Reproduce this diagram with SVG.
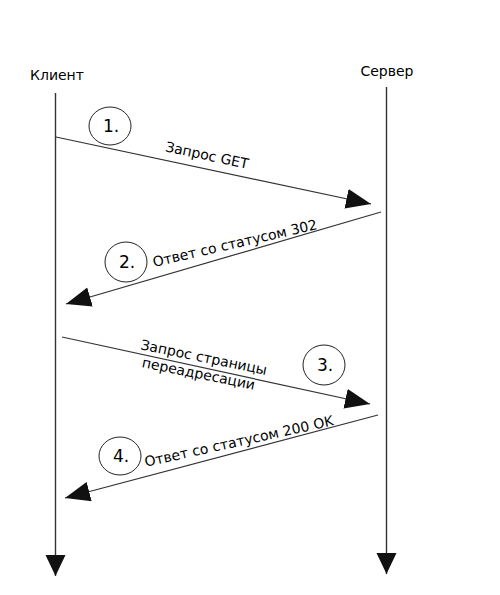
<svg xmlns="http://www.w3.org/2000/svg" width="500" height="595" viewBox="0 0 500 595">
<style>
  .life { stroke: #333; stroke-width: 1.4; fill: none; }
  .msg { stroke: #333; stroke-width: 1.2; fill: none; }
  .lbl { font-family: "DejaVu Sans", Verdana, sans-serif; font-size: 14px; fill: #000; }
  .num { font-family: "DejaVu Sans", Verdana, sans-serif; font-size: 17px; fill: #000; text-anchor: middle; }
  .ring { fill: none; stroke: #222; stroke-width: 1; }
  .ctr { text-anchor: middle; }
</style>
<defs>
  <marker id="head" markerUnits="userSpaceOnUse" markerWidth="28" markerHeight="22" refX="25" refY="10" orient="auto">
    <path d="M0,0 L25,10 L0,20 Z" fill="#111"/>
  </marker>
  <marker id="vhead" markerUnits="userSpaceOnUse" markerWidth="24" markerHeight="22" refX="21" refY="10" orient="auto">
    <path d="M0,0 L21,10 L0,20 Z" fill="#111"/>
  </marker>
</defs>
<rect width="500" height="595" fill="#fff"/>

<g id="client">
  <text class="lbl" x="30" y="80">Клиент</text>
  <line class="life" x1="55.5" y1="93" x2="55.5" y2="576" marker-end="url(#vhead)"/>
</g>
<g id="server">
  <text class="lbl ctr" x="387" y="76">Сервер</text>
  <line class="life" x1="386.5" y1="87" x2="386.5" y2="574" marker-end="url(#vhead)"/>
</g>

<g id="connectors">
  <line class="msg" x1="56" y1="137" x2="371" y2="204" marker-end="url(#head)"/>
  <line class="msg" x1="381" y1="212" x2="66" y2="304" marker-end="url(#head)"/>
  <line class="msg" x1="62" y1="337" x2="370" y2="404" marker-end="url(#head)"/>
  <line class="msg" x1="378" y1="415" x2="65" y2="498" marker-end="url(#head)"/>
</g>

<g id="step1">
  <ellipse class="ring" cx="110" cy="126" rx="21" ry="19"/>
  <text class="num" x="111" y="132">1.</text>
  <text class="lbl ctr" transform="translate(206,160) rotate(12)">Запрос GET</text>
</g>
<g id="step2">
  <ellipse class="ring" cx="126" cy="262" rx="21" ry="20"/>
  <text class="num" x="127" y="268">2.</text>
  <text class="lbl ctr" transform="translate(236,248) rotate(-13)">Ответ со статусом 302</text>
</g>
<g id="step3">
  <ellipse class="ring" cx="324" cy="365" rx="21" ry="20"/>
  <text class="num" x="325" y="371">3.</text>
  <g transform="translate(202,367) rotate(11.5)">
    <text class="lbl ctr" x="0" y="-5">Запрос страницы</text>
    <text class="lbl ctr" x="-2" y="12">переадресации</text>
  </g>
</g>
<g id="step4">
  <ellipse class="ring" cx="120" cy="456" rx="21" ry="19"/>
  <text class="num" x="121" y="462">4.</text>
  <text class="lbl ctr" transform="translate(240,446) rotate(-12.5)">Ответ со статусом 200 OK</text>
</g>
</svg>
